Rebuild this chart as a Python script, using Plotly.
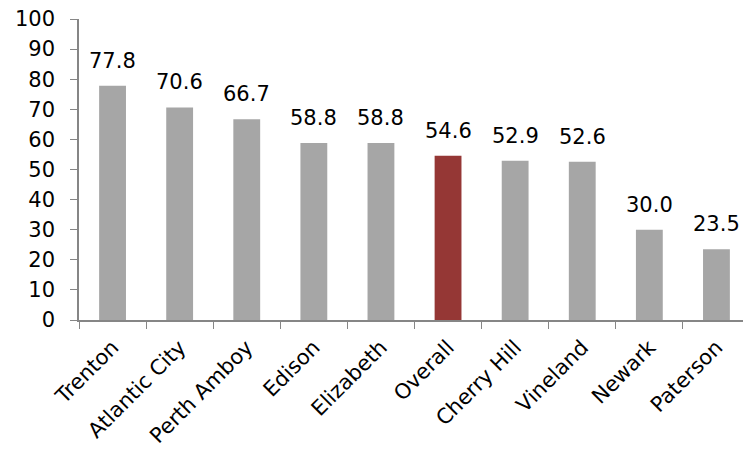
import plotly.graph_objects as go

categories = ["Trenton", "Atlantic City", "Perth Amboy", "Edison", "Elizabeth",
              "Overall", "Cherry Hill", "Vineland", "Newark", "Paterson"]
values = [77.8, 70.6, 66.7, 58.8, 58.8, 54.6, 52.9, 52.6, 30.0, 23.5]
labels = [f"{v:.1f}" for v in values]

GRAY = "#A6A6A6"
RED = "#953735"
colors = [RED if c == "Overall" else GRAY for c in categories]
FONT = "DejaVu Sans"

fig = go.Figure(go.Bar(
    x=categories, y=values, marker=dict(color=colors, line=dict(width=0)),
    width=0.4, cliponaxis=False,
))
for c, v, t in zip(categories, values, labels):
    fig.add_annotation(x=c, y=v, text=t, showarrow=False, yanchor="bottom",
                       yshift=11, font=dict(size=21, color="black", family=FONT))
fig.update_layout(
    width=743, height=448, plot_bgcolor="white", paper_bgcolor="white",
    margin=dict(l=71, r=1, t=11, b=136), showlegend=False,
    font=dict(family=FONT, size=21, color="black"),
    xaxis=dict(showline=True, linecolor="#868686", linewidth=1.5, ticks="outside",
               tickson="boundaries", ticklen=7, tickcolor="#868686", tickangle=-45,
               tickfont=dict(size=21), automargin=False, ticklabelstandoff=5),
    yaxis=dict(range=[0, 100], dtick=10, showline=True, linecolor="#868686", linewidth=1.5,
               ticks="outside", ticklen=7, tickcolor="#868686", showgrid=False,
               zeroline=False, tickfont=dict(size=21), automargin=False,
               ticklabeloverflow="allow", ticklabelstandoff=11),
)
fig.write_html("out.html")
